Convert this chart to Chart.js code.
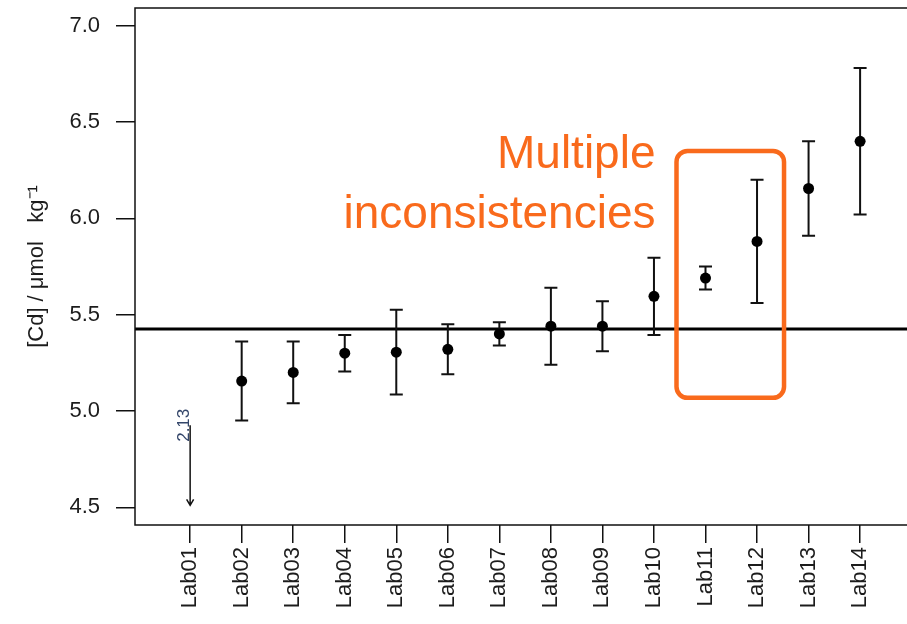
<!DOCTYPE html>
<html>
<head>
<meta charset="utf-8">
<script src="https://cdn.jsdelivr.net/npm/chart.js@4/dist/chart.umd.min.js"></script>
<style>
  html, body { margin: 0; padding: 0; background: #fff; overflow: hidden; }
  canvas { display: block; }
</style>
</head>
<body>
<canvas id="c" width="907" height="624"></canvas>
<script>
// Participant labels and reported cadmium results (µmol/kg) with expanded uncertainties
const labs = ['Lab01', 'Lab02', 'Lab03', 'Lab04', 'Lab05', 'Lab06', 'Lab07',
              'Lab08', 'Lab09', 'Lab10', 'Lab11', 'Lab12', 'Lab13', 'Lab14'];
const cdValues = [2.13, 5.155, 5.20, 5.30, 5.305, 5.32, 5.40,
                  5.44, 5.44, 5.595, 5.69, 5.88, 6.155, 6.40];
const cdUncert = [null, 0.205, 0.16, 0.095, 0.22, 0.13, 0.06,
                  0.20, 0.13, 0.20, 0.06, 0.32, 0.245, 0.38];
// Consensus (reference) value
const refValue = 5.425;
// Axis ticks
const yTicks = [4.5, 5.0, 5.5, 6.0, 6.5, 7.0];
// Highlighted group and its note
const flagged = ['Lab11', 'Lab12'];
const noteLines = ['Multiple', 'inconsistencies'];

const Y_MIN = 4.408, Y_MAX = 7.092;
const INK = '#111';
const TEXT = '#1c1c1c';
const ORANGE = '#F96A1C';
const FONT = "'Liberation Sans', Arial, sans-serif";

const points = labs.map((l, i) => ({ x: i + 1, y: cdValues[i] }));

// Reference line + error bars underneath the points
const underlay = {
  id: 'underlay',
  beforeDatasetsDraw(chart) {
    const { ctx, chartArea, scales: { x, y } } = chart;
    ctx.save();
    // reference value
    const yr = y.getPixelForValue(refValue);
    ctx.strokeStyle = '#000';
    ctx.lineWidth = 3;
    ctx.beginPath();
    ctx.moveTo(chartArea.left, yr);
    ctx.lineTo(chartArea.right, yr);
    ctx.stroke();
    // uncertainty bars
    ctx.strokeStyle = INK;
    ctx.lineWidth = 2;
    cdValues.forEach((v, i) => {
      const u = cdUncert[i];
      if (u == null || v < Y_MIN) return;
      const px = x.getPixelForValue(i + 1);
      const top = y.getPixelForValue(v + u);
      const bot = y.getPixelForValue(v - u);
      ctx.beginPath();
      ctx.moveTo(px, top); ctx.lineTo(px, bot);
      ctx.moveTo(px - 6.5, top); ctx.lineTo(px + 6.5, top);
      ctx.moveTo(px - 6.5, bot); ctx.lineTo(px + 6.5, bot);
      ctx.stroke();
    });
    ctx.restore();
  }
};

// Off-scale results: downward arrow with the reported value
const offScale = {
  id: 'offScale',
  afterDatasetsDraw(chart) {
    const { ctx, scales: { x, y } } = chart;
    ctx.save();
    cdValues.forEach((v, i) => {
      if (v >= Y_MIN) return;
      const px = x.getPixelForValue(i + 1);
      const bot = y.getPixelForValue(yTicks[0]) - 2;
      const top = bot - 80;
      ctx.strokeStyle = INK;
      ctx.lineWidth = 1.5;
      ctx.beginPath();
      ctx.moveTo(px, top); ctx.lineTo(px, bot);
      ctx.moveTo(px - 3.5, bot - 6); ctx.lineTo(px, bot); ctx.lineTo(px + 3.5, bot - 6);
      ctx.stroke();
      ctx.translate(px - 6, top);
      ctx.rotate(-Math.PI / 2);
      ctx.fillStyle = '#34466a';
      ctx.font = '17px ' + FONT;
      ctx.textAlign = 'center';
      ctx.textBaseline = 'middle';
      ctx.fillText(v.toFixed(2), 0, 0);
      ctx.setTransform(1, 0, 0, 1, 0, 0);
    });
    ctx.restore();
  }
};

// Plot frame (left, top, bottom) and the highlight note
const overlay = {
  id: 'overlay',
  afterDraw(chart) {
    const { ctx, chartArea: a, scales: { x, y } } = chart;
    ctx.save();
    ctx.strokeStyle = INK;
    ctx.lineWidth = 1.5;
    ctx.beginPath();
    ctx.moveTo(a.right + 2, a.top);
    ctx.lineTo(a.left, a.top);
    ctx.lineTo(a.left, a.bottom);
    ctx.lineTo(a.right + 2, a.bottom);
    ctx.stroke();

    // rounded box around the flagged labs
    const i0 = labs.indexOf(flagged[0]) + 1;
    const i1 = labs.indexOf(flagged[flagged.length - 1]) + 1;
    const bx0 = x.getPixelForValue(i0) - 29;
    const bx1 = x.getPixelForValue(i1) + 27;
    const by0 = y.getPixelForValue(6.35);
    const by1 = y.getPixelForValue(5.068);
    ctx.strokeStyle = ORANGE;
    ctx.lineWidth = 4.5;
    ctx.beginPath();
    ctx.roundRect(bx0, by0, bx1 - bx0, by1 - by0, 11);
    ctx.stroke();

    ctx.fillStyle = ORANGE;
    ctx.font = '46px ' + FONT;
    ctx.textAlign = 'right';
    ctx.textBaseline = 'alphabetic';
    ctx.fillText(noteLines[0], bx0 - 21, 168);
    ctx.fillText(noteLines[1], bx0 - 21, 228);
    ctx.restore();
  }
};

new Chart(document.getElementById('c'), {
  type: 'scatter',
  data: {
    datasets: [{
      data: points,
      backgroundColor: '#000',
      borderColor: '#000',
      borderWidth: 0,
      pointRadius: c => (c.raw && c.raw.y < Y_MIN ? 0 : 5.5),
      pointHoverRadius: 5.5
    }]
  },
  options: {
    responsive: false,
    devicePixelRatio: 1,
    animation: false,
    events: [],
    layout: { padding: { top: 8, right: 0, bottom: 0, left: 0 }, autoPadding: false },
    plugins: { legend: { display: false }, tooltip: { enabled: false } },
    scales: {
      x: {
        type: 'linear',
        min: -0.07,
        max: 14.91,
        afterFit: s => { s.height = 99; s.paddingLeft = 0; s.paddingRight = 0; },
        afterBuildTicks: s => { s.ticks = labs.map((_, i) => ({ value: i + 1 })); },
        ticks: {
          autoSkip: false,
          minRotation: 90,
          maxRotation: 90,
          padding: 4,
          color: TEXT,
          font: { family: FONT, size: 22 },
          callback: v => labs[Math.round(v) - 1] || ''
        },
        grid: { display: true, drawOnChartArea: false, drawTicks: true, tickLength: 18, color: INK, lineWidth: 1.5 },
        border: { display: false }
      },
      y: {
        type: 'linear',
        min: Y_MIN,
        max: Y_MAX,
        afterFit: s => { s.width = 135; s.paddingTop = 0; s.paddingBottom = 0; },
        afterBuildTicks: s => { s.ticks = yTicks.map(v => ({ value: v })); },
        ticks: {
          padding: 16,
          color: TEXT,
          font: { family: FONT, size: 22 },
          callback: v => Number(v).toFixed(1)
        },
        grid: { display: true, drawOnChartArea: false, drawTicks: true, tickLength: 19, color: INK, lineWidth: 1.5 },
        border: { display: false },
        title: {
          display: true,
          text: '[Cd] / μmol   kg⁻¹',
          color: TEXT,
          font: { family: FONT, size: 22 },
          padding: { top: 24, bottom: 0 }
        }
      }
    }
  },
  plugins: [underlay, offScale, overlay]
});
</script>
</body>
</html>
